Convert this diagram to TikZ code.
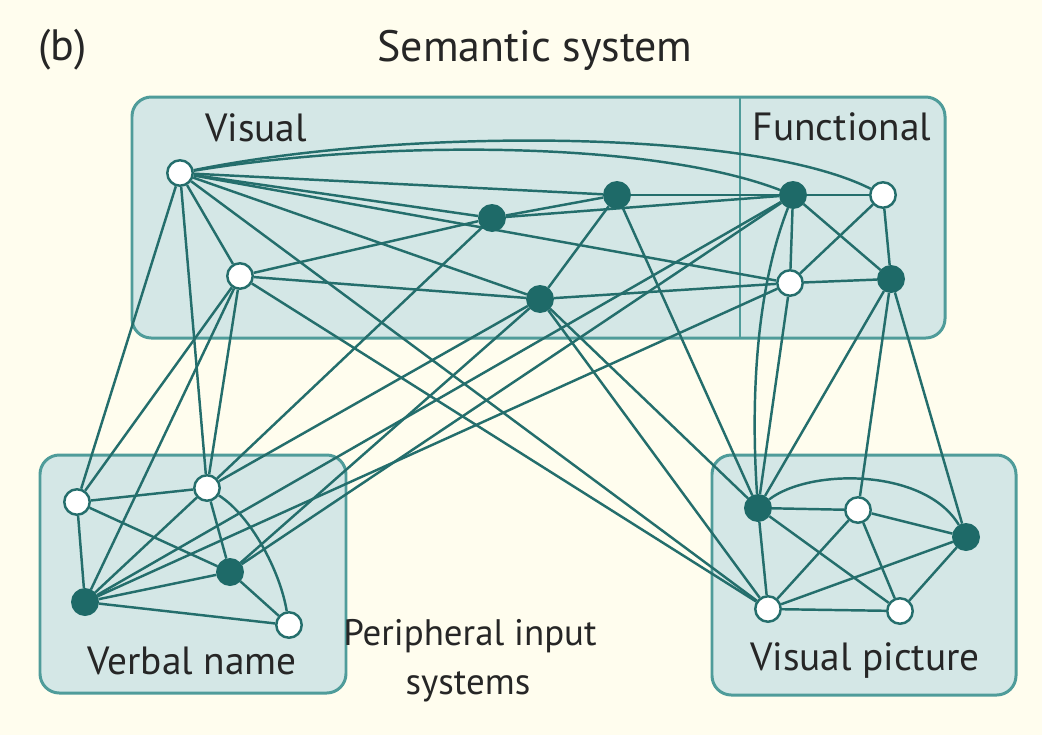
\documentclass[tikz,border=0pt]{standalone}
\usepackage{fontspec}
\setmainfont{PT Sans}
\definecolor{bgC}{HTML}{FFFDEE}
\definecolor{boxF}{HTML}{D4E7E6}
\definecolor{boxC}{HTML}{4F9C9A}
\definecolor{lineC}{HTML}{246E6C}
\definecolor{nodeC}{HTML}{1E6A68}
\pgfdeclarelayer{back}
\pgfdeclarelayer{edges}
\pgfsetlayers{back,edges,main}
\begin{document}
\begin{tikzpicture}[x=0.02cm,y=-0.02cm,
  wnode/.style={circle,draw=lineC,fill=white,line width=1.4pt,minimum size=14.5pt,inner sep=0pt},
  fnode/.style={circle,draw=nodeC,fill=nodeC,line width=1.4pt,minimum size=14.5pt,inner sep=0pt},
  link/.style={draw=lineC,line width=1.4pt},
  panel/.style={draw=boxC,fill=boxF,line width=1.7pt,rounded corners=11pt},
  lbl/.style={font=\fontsize{22.4}{25}\selectfont,text=black!85,inner sep=0pt},
  midlbl/.style={font=\fontsize{21}{24}\selectfont,text=black!85,inner sep=0pt},
  title/.style={font=\fontsize{25}{28}\selectfont,text=black!85,inner sep=0pt}]
\useasboundingbox (0,0) rectangle (1042,735);
\begin{pgfonlayer}{back}
\fill[bgC] (0,0) rectangle (1042,735);
\draw[panel] (132,97) rectangle (945,338);
\draw[boxC,line width=1.4pt] (740,97) -- (740,338);
\draw[panel] (40,455) rectangle (346,693);
\draw[panel] (712,455) rectangle (1016,695);
\end{pgfonlayer}
% texts
\node[title,anchor=west] (tb) at (38,50) {(b)};
\node[title] (tsem) at (535,50) {Semantic system};
\node[lbl] (tvis) at (256,128) {Visual};
\node[lbl] (tfun) at (842,127) {Functional};
\node[lbl] (tverb) at (192,661) {Verbal name};
\node[midlbl] (tper1) at (470,636) {Peripheral input};
\node[midlbl] (tper2) at (468,687) {systems};
\node[lbl] (tpic) at (865,660) {Visual picture};
% semantic nodes
\node[wnode] (A) at (180,173) {};
\node[wnode] (B) at (240,276) {};
\node[fnode] (C) at (492,218) {};
\node[fnode] (D) at (617,195) {};
\node[fnode] (E) at (540,299) {};
\node[fnode] (F) at (793,195) {};
\node[wnode] (G) at (883,195) {};
\node[wnode] (H) at (790,283) {};
\node[fnode] (I) at (891,279) {};
% verbal name nodes
\node[wnode] (J) at (77,502) {};
\node[wnode] (K) at (207,488) {};
\node[fnode] (L) at (230,572) {};
\node[fnode] (M) at (85,602) {};
\node[wnode] (N) at (289,625) {};
% visual picture nodes
\node[fnode] (P) at (758,508) {};
\node[wnode] (Q) at (858,510) {};
\node[fnode] (R) at (966,537) {};
\node[wnode] (S) at (768,609) {};
\node[wnode] (T) at (900,611) {};
\begin{pgfonlayer}{edges}
\draw[link] (A) .. controls (400,128) and (750,128) .. (G);
\draw[link] (A) .. controls (380,140) and (650,140) .. (F);
\draw[link] (A) -- (B); \draw[link] (A) -- (C); \draw[link] (A) -- (D);
\draw[link] (A) -- (E); \draw[link] (A) -- (H); \draw[link] (A) -- (J);
\draw[link] (A) -- (K); \draw[link] (A) -- (S);
\draw[link] (B) -- (C); \draw[link] (B) -- (E); \draw[link] (B) -- (J);
\draw[link] (B) -- (K); \draw[link] (B) -- (M); \draw[link] (B) -- (S);
\draw[link] (C) -- (D); \draw[link] (C) -- (F); \draw[link] (C) -- (K);
\draw[link] (D) -- (F); \draw[link] (D) -- (E); \draw[link] (D) -- (P);
\draw[link] (E) -- (H); \draw[link] (E) -- (P); \draw[link] (E) -- (S);
\draw[link] (E) -- (K); \draw[link] (E) -- (L);
\draw[link] (F) -- (G); \draw[link] (F) -- (H); \draw[link] (F) -- (I);
\draw[link] (F) -- (L); \draw[link] (F) -- (M);
\draw[link] (F) .. controls (752,300) and (752,420) .. (P);
\draw[link] (G) -- (H); \draw[link] (G) -- (I);
\draw[link] (H) -- (I); \draw[link] (H) -- (P); \draw[link] (H) -- (M);
\draw[link] (I) -- (P); \draw[link] (I) -- (Q); \draw[link] (I) -- (R);
\draw[link] (J) -- (K); \draw[link] (J) -- (L); \draw[link] (J) -- (M);
\draw[link] (K) -- (L); \draw[link] (K) -- (M);
\draw[link] (K) .. controls (250,515) and (280,570) .. (N);
\draw[link] (L) -- (M); \draw[link] (L) -- (N); \draw[link] (M) -- (N);
\draw[link] (P) -- (Q); \draw[link] (P) -- (S); \draw[link] (P) -- (T);
\draw[link] (P) .. controls (810,468) and (925,468) .. (R);
\draw[link] (Q) -- (R); \draw[link] (Q) -- (S); \draw[link] (Q) -- (T);
\draw[link] (R) -- (S); \draw[link] (R) -- (T); \draw[link] (S) -- (T);
\end{pgfonlayer}
\end{tikzpicture}
\end{document}
